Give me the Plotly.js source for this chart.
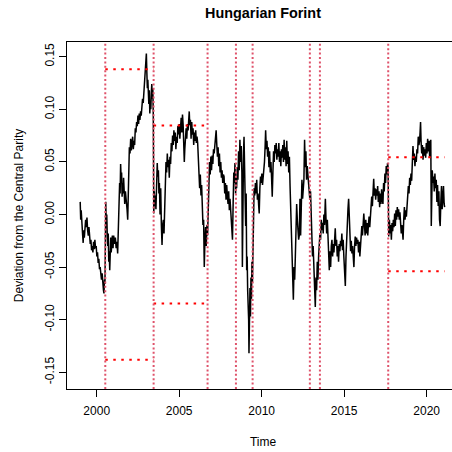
<!DOCTYPE html>
<html>
<head>
<meta charset="utf-8">
<script src="https://cdn.plot.ly/plotly-3.0.1.min.js"></script>
<style>
html,body{margin:0;padding:0;overflow:hidden;background:#fff;}
#chart{width:472px;height:452px;}
</style>
</head>
<body>
<div id="chart"></div>
<script>
// ---- data ----
const time = [
1999.00,1999.03,1999.06,1999.09,1999.12,1999.15,1999.18,1999.21,1999.25,1999.29,1999.33,1999.37,1999.41,1999.45,1999.49,1999.53,1999.57,1999.61,1999.65,1999.69,1999.73,1999.77,1999.81,1999.85,1999.89,1999.93,1999.97,
2000.01,2000.05,2000.09,2000.13,2000.17,2000.21,2000.25,2000.29,2000.33,2000.37,2000.41,2000.44,2000.47,2000.50,
2000.55,2000.58,2000.61,2000.64,2000.67,2000.70,2000.73,2000.76,2000.79,2000.82,2000.85,2000.88,2000.91,2000.95,2000.99,
2001.03,2001.08,2001.13,2001.18,2001.23,2001.27,2001.31,2001.35,2001.39,2001.42,2001.45,2001.48,2001.51,2001.54,2001.57,2001.60,2001.63,2001.66,2001.70,2001.74,2001.80,2001.84,2001.88,2001.91,2001.94,2001.98,
2002.02,2002.06,2002.10,2002.14,2002.18,2002.22,2002.26,2002.30,2002.34,2002.38,2002.42,2002.46,2002.50,2002.54,2002.58,2002.62,2002.66,2002.70,2002.74,2002.78,2002.82,2002.86,2002.90,2002.94,2002.98,
2003.01,2003.04,2003.07,2003.10,2003.13,2003.16,2003.19,2003.22,2003.25,2003.28,2003.31,2003.34,2003.37,2003.40,2003.43,
2003.46,2003.49,2003.52,2003.55,2003.59,2003.63,2003.67,2003.70,2003.74,2003.77,2003.80,2003.84,2003.88,2003.92,2003.96,
2004.00,2004.04,2004.08,2004.12,2004.16,2004.20,2004.24,2004.28,2004.32,2004.36,2004.40,2004.44,2004.48,2004.52,2004.56,2004.60,2004.64,2004.68,2004.72,2004.76,2004.80,2004.84,2004.88,2004.92,2004.96,
2005.00,2005.04,2005.08,2005.12,2005.16,2005.20,2005.24,2005.28,2005.31,2005.34,2005.38,2005.42,2005.46,2005.50,2005.54,2005.58,2005.61,2005.64,2005.68,2005.72,2005.76,2005.80,2005.84,2005.88,2005.92,2005.96,
2006.00,2006.04,2006.08,2006.12,2006.16,2006.20,2006.24,2006.28,2006.32,2006.36,2006.40,2006.44,2006.48,2006.52,2006.56,2006.60,2006.64,2006.68,2006.72,2006.76,2006.80,2006.84,2006.88,2006.92,2006.96,
2007.00,2007.04,2007.08,2007.12,2007.16,2007.20,2007.24,2007.28,2007.32,2007.36,2007.40,2007.44,2007.48,2007.52,2007.56,2007.60,2007.64,2007.68,2007.72,2007.76,2007.80,2007.84,2007.88,2007.92,2007.96,
2008.00,2008.04,2008.08,2008.12,2008.16,2008.20,2008.23,2008.27,2008.31,2008.34,2008.38,2008.42,2008.45,2008.48,2008.52,2008.56,2008.60,2008.64,2008.68,2008.72,2008.76,2008.80,2008.83,2008.86,2008.90,2008.93,2008.96,
2009.00,2009.03,2009.06,2009.09,2009.12,2009.15,2009.18,2009.21,2009.23,2009.26,2009.29,2009.32,2009.35,2009.38,2009.41,2009.44,2009.47,2009.50,2009.54,2009.58,2009.62,2009.66,2009.70,2009.74,2009.78,2009.82,2009.85,2009.89,2009.93,2009.97,
2010.01,2010.05,2010.09,2010.13,2010.17,2010.21,2010.24,2010.28,2010.32,2010.36,2010.40,2010.44,2010.48,2010.52,2010.56,2010.60,2010.64,2010.68,2010.72,2010.76,2010.80,2010.84,2010.88,2010.92,2010.96,
2011.00,2011.04,2011.08,2011.12,2011.16,2011.20,2011.24,2011.28,2011.32,2011.36,2011.40,2011.44,2011.48,2011.52,2011.56,2011.60,2011.64,2011.68,2011.72,2011.76,2011.80,2011.84,2011.88,2011.92,2011.96,
2012.00,2012.04,2012.08,2012.12,2012.16,2012.20,2012.24,2012.28,2012.32,2012.36,2012.40,2012.44,2012.48,2012.52,2012.56,2012.60,2012.64,2012.68,2012.72,2012.76,2012.80,2012.84,2012.88,2012.92,2012.96,
2013.00,2013.04,2013.08,2013.12,2013.16,2013.20,2013.25,2013.29,2013.33,2013.37,2013.41,2013.45,2013.49,2013.53,2013.57,2013.61,2013.65,2013.69,2013.73,2013.77,2013.81,2013.86,2013.90,2013.94,2013.98,
2014.02,2014.06,2014.10,2014.14,2014.18,2014.22,2014.26,2014.30,2014.34,2014.38,2014.42,2014.46,2014.50,2014.54,2014.58,2014.62,2014.66,2014.70,2014.74,2014.78,2014.82,2014.86,2014.90,2014.94,2014.98,
2015.02,2015.07,2015.11,2015.15,2015.19,2015.23,2015.27,2015.31,2015.35,2015.39,2015.43,2015.47,2015.51,2015.55,2015.59,2015.63,2015.67,2015.71,2015.75,2015.79,2015.83,2015.87,2015.91,2015.95,2015.99,
2016.03,2016.07,2016.11,2016.15,2016.19,2016.23,2016.27,2016.31,2016.35,2016.39,2016.43,2016.47,2016.51,2016.55,2016.59,2016.63,2016.67,2016.71,2016.75,2016.79,2016.83,2016.87,2016.91,2016.95,2016.99,
2017.03,2017.07,2017.11,2017.15,2017.19,2017.23,2017.27,2017.31,2017.35,2017.39,2017.43,2017.47,2017.51,2017.55,2017.59,2017.63,2017.66,2017.70,2017.74,2017.78,2017.82,2017.86,2017.90,2017.94,2017.98,
2018.02,2018.06,2018.10,2018.14,2018.18,2018.22,2018.26,2018.30,2018.34,2018.38,2018.42,2018.46,2018.50,2018.54,2018.57,2018.61,2018.65,2018.69,2018.73,2018.77,2018.81,2018.85,2018.89,2018.93,2018.97,
2019.01,2019.05,2019.09,2019.13,2019.17,2019.21,2019.25,2019.29,2019.33,2019.37,2019.41,2019.45,2019.49,2019.53,2019.57,2019.60,2019.63,2019.66,2019.70,2019.74,2019.78,2019.82,2019.86,2019.90,2019.94,2019.98,
2020.02,2020.06,2020.10,2020.14,2020.18,2020.22,2020.25,2020.28,2020.31,2020.34,2020.38,2020.42,2020.46,2020.50,2020.54,2020.58,2020.62,2020.66,2020.70,2020.74,2020.78,2020.82,2020.86,2020.90,2020.94,2020.98,
2021.02,2021.06,2021.09
];
const deviation = [
0.012,-0.005,0.004,-0.012,-0.008,-0.020,-0.027,-0.015,-0.022,-0.010,-0.005,-0.012,-0.003,-0.015,-0.020,-0.012,-0.022,-0.028,-0.024,-0.034,-0.030,-0.036,-0.026,-0.033,-0.024,-0.032,-0.030,
-0.040,-0.036,-0.046,-0.042,-0.052,-0.050,-0.058,-0.062,-0.056,-0.068,-0.072,-0.075,-0.062,-0.066,
0.012,-0.010,0.000,-0.020,-0.030,-0.018,-0.045,-0.035,-0.053,-0.030,-0.022,-0.036,-0.028,-0.020,-0.032,
-0.020,-0.028,-0.022,-0.032,-0.026,-0.037,-0.010,0.010,0.030,0.020,0.048,0.035,0.040,0.017,0.030,0.020,0.035,0.028,0.010,0.022,0.015,0.005,-0.005,0.020,0.045,0.064,
0.058,0.072,0.061,0.068,0.074,0.062,0.070,0.066,0.082,0.078,0.088,0.084,0.094,0.086,0.096,0.090,0.098,0.094,0.104,0.110,0.106,0.118,0.125,0.130,0.142,
0.153,0.135,0.120,0.128,0.112,0.105,0.118,0.096,0.108,0.100,0.115,0.124,0.110,0.120,0.095,
0.001,0.022,0.008,0.018,0.005,0.030,0.049,0.036,0.042,0.020,0.030,0.000,0.025,-0.010,-0.029,
-0.010,-0.005,-0.018,0.001,0.030,0.050,0.040,0.058,0.045,0.052,0.035,0.055,0.048,0.068,0.060,0.075,0.066,0.080,0.070,0.078,0.062,0.074,0.068,0.084,0.076,
0.086,0.072,0.082,0.092,0.078,0.095,0.085,0.070,0.050,0.062,0.075,0.082,0.072,0.086,0.080,0.092,0.098,0.085,0.090,0.072,0.088,0.076,0.082,0.066,0.078,0.070,
0.080,0.068,0.074,0.068,0.055,0.035,0.025,0.038,0.018,0.028,0.006,-0.010,-0.005,-0.050,-0.025,-0.012,-0.030,-0.010,-0.020,0.010,0.025,0.050,0.038,0.055,0.042,
0.056,0.048,0.062,0.058,0.066,0.072,0.080,0.066,0.055,0.064,0.046,0.058,0.040,0.050,0.035,0.042,0.030,0.038,0.036,0.020,0.030,0.014,0.028,0.018,0.010,
0.022,0.004,0.015,0.001,-0.010,-0.018,-0.024,0.010,0.040,0.030,0.049,0.020,0.035,0.025,0.045,0.033,0.060,0.042,0.071,0.050,0.065,0.040,-0.050,0.030,0.060,0.074,0.040,
0.010,-0.011,0.020,-0.053,-0.040,-0.072,-0.081,-0.100,-0.132,-0.090,-0.070,-0.097,-0.060,-0.080,-0.045,-0.065,-0.020,0.013,0.025,0.018,0.030,0.020,0.033,0.014,0.020,0.008,0.001,0.025,0.036,0.030,
0.039,0.028,0.035,0.044,0.050,0.065,0.080,0.062,0.070,0.055,0.064,0.045,0.060,0.040,0.050,0.035,0.017,0.040,0.060,0.050,0.066,0.058,0.068,0.052,0.062,
0.055,0.068,0.050,0.060,0.046,0.062,0.054,0.066,0.050,0.071,0.052,0.064,0.046,0.070,0.048,0.060,0.040,0.055,0.027,0.005,-0.015,-0.024,-0.040,-0.081,-0.050,
-0.062,-0.040,-0.010,0.010,-0.005,-0.018,-0.024,-0.020,0.015,-0.020,0.010,0.033,0.015,0.030,0.033,0.071,0.045,0.060,0.033,0.046,0.039,0.027,0.020,0.014,0.022,
0.001,-0.025,-0.040,-0.030,-0.056,-0.062,-0.088,-0.060,-0.072,-0.045,-0.062,-0.040,-0.030,-0.018,-0.024,-0.005,-0.015,-0.008,-0.018,0.000,-0.010,0.015,-0.005,-0.018,-0.005,
-0.030,-0.040,-0.053,-0.035,-0.050,-0.030,-0.024,-0.040,-0.028,-0.036,-0.020,-0.013,-0.030,-0.024,-0.040,-0.030,-0.045,-0.028,-0.035,-0.025,-0.030,-0.018,-0.034,-0.024,-0.040,
-0.050,-0.068,-0.040,-0.020,-0.005,0.005,0.015,-0.010,-0.024,-0.035,-0.025,-0.037,-0.030,-0.045,-0.050,-0.030,-0.021,-0.030,-0.022,-0.028,-0.024,-0.036,-0.026,-0.040,-0.030,
-0.022,-0.011,-0.020,-0.005,0.001,-0.010,-0.020,-0.005,-0.018,-0.008,-0.020,-0.010,-0.002,-0.012,0.001,0.010,0.017,0.008,0.025,0.034,0.018,0.025,0.014,0.024,0.018,
0.027,0.012,0.022,0.007,0.020,0.010,0.024,0.014,0.010,0.030,0.022,0.039,0.030,0.046,0.038,0.049,0.045,-0.021,-0.005,-0.018,-0.010,-0.024,-0.008,-0.016,-0.005,
-0.012,0.001,-0.011,0.004,-0.005,0.007,-0.002,0.005,-0.005,0.002,-0.008,-0.018,-0.010,-0.020,-0.024,-0.005,0.007,-0.005,0.004,-0.002,0.012,0.020,0.027,0.020,0.035,
0.028,0.039,0.032,0.050,0.065,0.052,0.058,0.046,0.055,0.050,0.062,0.058,0.074,0.066,0.070,0.078,0.088,0.070,0.058,0.066,0.052,0.064,0.056,0.062,0.054,0.068,
0.058,0.072,0.060,0.070,0.055,0.068,0.071,-0.011,0.020,0.042,0.030,0.036,0.022,0.039,0.025,0.033,0.012,0.028,0.008,0.022,-0.005,-0.011,0.012,0.027,0.005,0.020,
0.027,0.010,0.007
];
const breakDates = [2000.52, 2003.45, 2006.72, 2008.44, 2009.45, 2012.92, 2013.53, 2017.67];
const bandStart = [2000.52, 2003.45, 2017.67];
const bandEnd   = [2003.45, 2006.72, 2021.09];
const bandUpper = [0.138, 0.0845, 0.0545];
const bandLower = [-0.138, -0.0845, -0.054];
const xTicks = [2000, 2005, 2010, 2015, 2020];
const yTicks = [-0.15, -0.10, -0.05, 0.00, 0.05, 0.10, 0.15];

// ---- build traces ----
const traces = [];
traces.push({
  x: time, y: deviation, type: 'scatter', mode: 'lines',
  line: {color: '#000000', width: 1.5}, hoverinfo: 'skip', showlegend: false
});
for (let i = 0; i < bandStart.length; i++) {
  [bandUpper[i], bandLower[i]].forEach(v => {
    traces.push({
      x: [bandStart[i], bandEnd[i]], y: [v, v], type: 'scatter', mode: 'lines',
      line: {color: '#FF0000', width: 2, dash: '2.5px,5.5px'}, hoverinfo: 'skip', showlegend: false
    });
  });
}
const shapes = breakDates.map(d => ({
  type: 'line', xref: 'x', yref: 'paper', x0: d, x1: d, y0: 0, y1: 1,
  line: {color: '#DF536B', width: 2, dash: '2px,2.4px'}
}));

const font = {family: 'Liberation Sans, Arial, sans-serif', color: '#000', size: 12};
const layout = {
  width: 472, height: 452,
  margin: {l: 67, r: 13, t: 42, b: 63},
  paper_bgcolor: '#fff', plot_bgcolor: '#fff',
  font: font,
  title: {text: '<b>Hungarian Forint</b>', font: {family: 'Liberation Sans, Arial, sans-serif', size: 14.4, color: '#000'},
          x: 0.5, xref: 'paper', xanchor: 'center', y: 0.971, yref: 'container', yanchor: 'middle'},
  xaxis: {
    range: [1998.2, 2021.96], tickvals: xTicks, ticktext: xTicks.map(String),
    showgrid: false, zeroline: false, showline: true, mirror: true, linecolor: '#000', linewidth: 1,
    ticks: 'outside', ticklen: 7, tickwidth: 1, tickcolor: '#000', ticklabelstandoff: 4,
    tickfont: font, title: {text: 'Time', font: font, standoff: 20}, automargin: false
  },
  yaxis: {
    range: [-0.1659, 0.164], tickvals: yTicks, ticktext: yTicks.map(v => v.toFixed(2)),
    showgrid: false, zeroline: false, showline: true, mirror: true, linecolor: '#000', linewidth: 1,
    ticks: 'outside', ticklen: 7, tickwidth: 1, tickcolor: '#000', tickangle: -90,
    tickfont: font, title: {text: 'Deviation from the Central Parity', font: font, standoff: 17}, automargin: false
  },
  shapes: shapes,
  showlegend: false
};
Plotly.newPlot('chart', traces, layout, {displayModeBar: false, staticPlot: true});
</script>
</body>
</html>
